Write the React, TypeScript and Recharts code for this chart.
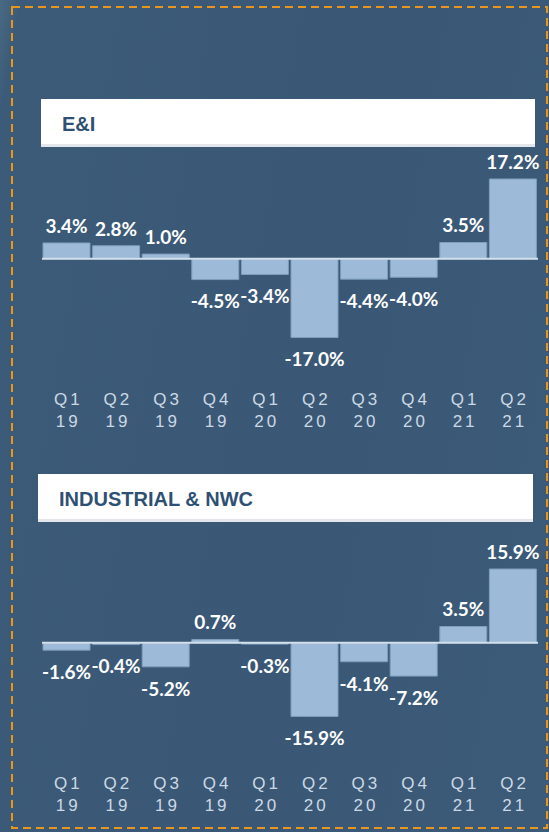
import React from "react";
import { BarChart, Bar, XAxis, YAxis, ReferenceLine, LabelList } from "recharts";

const quarters = ["Q1", "Q2", "Q3", "Q4", "Q1", "Q2", "Q3", "Q4", "Q1", "Q2"];
const years = ["19", "19", "19", "19", "20", "20", "20", "20", "21", "21"];
const eiValues = [3.4, 2.8, 1.0, -4.5, -3.4, -17.0, -4.4, -4.0, 3.5, 17.2];
const industrialValues = [-1.6, -0.4, -5.2, 0.7, -0.3, -15.9, -4.1, -7.2, 3.5, 15.9];

const C = {
  bg: "#3b5a77",
  bar: "#9dbad8",
  barEdge: "#7e9ebf",
  zero: "#d3dfeb",
  label: "#ffffff",
  tick: "#ccd8e4",
  title: "#2e5074",
  border: "#e8961c",
};

const buildRows = (values: number[]) =>
  values.map((v, i) => ({ period: `${quarters[i]} ${years[i]}`, v }));

// eslint-disable-next-line @typescript-eslint/no-explicit-any
function QuarterTick({ x, y, payload }: any) {
  const [q, yr] = String(payload.value).split(" ");
  return (
    <text
      x={x}
      y={y}
      textAnchor="middle"
      fill={C.tick}
      fontSize={17}
      fontFamily="'Liberation Sans', Arial, sans-serif"
      letterSpacing={3}
    >
      <tspan x={x + 1.5} dy={35}>
        {q}
      </tspan>
      <tspan x={x + 1.5} dy={22}>
        {yr}
      </tspan>
    </text>
  );
}

// eslint-disable-next-line @typescript-eslint/no-explicit-any
function PctLabel({ x, y, width, height, value }: any) {
  const top = Math.min(y, y + height);
  const bottom = Math.max(y, y + height);
  const ty = value >= 0 ? top - 17 : bottom + 22;
  return (
    <text
      x={x + width / 2}
      y={ty}
      dy="0.36em"
      textAnchor="middle"
      fill={C.label}
      fontSize={19}
      fontWeight={700}
      fontFamily="Lato, 'Open Sans', sans-serif"
    >
      {`${Number(value).toFixed(1)}%`}
    </text>
  );
}

function GrowthChart({ values }: { values: number[] }) {
  return (
    <BarChart
      width={549}
      height={280}
      data={buildRows(values)}
      margin={{ top: 16, right: 11, left: 42, bottom: 0 }}
      barSize={47}
    >
      <XAxis
        dataKey="period"
        axisLine={false}
        tickLine={false}
        tickSize={0}
        tickMargin={0}
        height={60}
        interval={0}
        tick={<QuarterTick />}
      />
      <YAxis hide domain={[-24, 20]} />
      <Bar dataKey="v" fill={C.bar} stroke={C.barEdge} strokeWidth={1} isAnimationActive={false}>
        <LabelList dataKey="v" content={<PctLabel />} />
      </Bar>
      <ReferenceLine y={0} stroke={C.zero} strokeWidth={2} />
    </BarChart>
  );
}

function TitleBox({ top, left, width, text }: { top: number; left: number; width: number; text: string }) {
  return (
    <div
      style={{
        position: "absolute",
        top,
        left,
        width,
        height: 45,
        background: "#ffffff",
        borderBottom: "3px solid #e3e6ea",
        boxSizing: "content-box",
      }}
    >
      <div
        style={{
          position: "absolute",
          left: 21,
          top: 0,
          height: 50,
          lineHeight: "50px",
          color: C.title,
          fontFamily: "'Liberation Sans', Arial, sans-serif",
          fontWeight: 700,
          fontSize: 20,
        }}
      >
        {text}
      </div>
    </div>
  );
}

export default function App() {
  return (
    <div
      style={{
        position: "absolute",
        left: 0,
        top: 0,
        width: 549,
        height: 832,
        overflow: "hidden",
        background: `linear-gradient(100deg, #4a6983 0%, #3c5b78 3%, #3a5876 55%, #3c5b78 100%)`,
      }}
    >
      <svg width={549} height={832} style={{ position: "absolute", left: 0, top: 0 }}>
        <rect
          x={12}
          y={7}
          width={535}
          height={821}
          fill="none"
          stroke={C.border}
          strokeWidth={2}
          strokeDasharray="8 5"
        />
      </svg>
      <TitleBox top={99} left={41} width={494} text="E&I" />
      <div style={{ position: "absolute", left: 0, top: 150 }}>
        <GrowthChart values={eiValues} />
      </div>
      <TitleBox top={474} left={38} width={495} text="INDUSTRIAL & NWC" />
      <div style={{ position: "absolute", left: 0, top: 534 }}>
        <GrowthChart values={industrialValues} />
      </div>
    </div>
  );
}
